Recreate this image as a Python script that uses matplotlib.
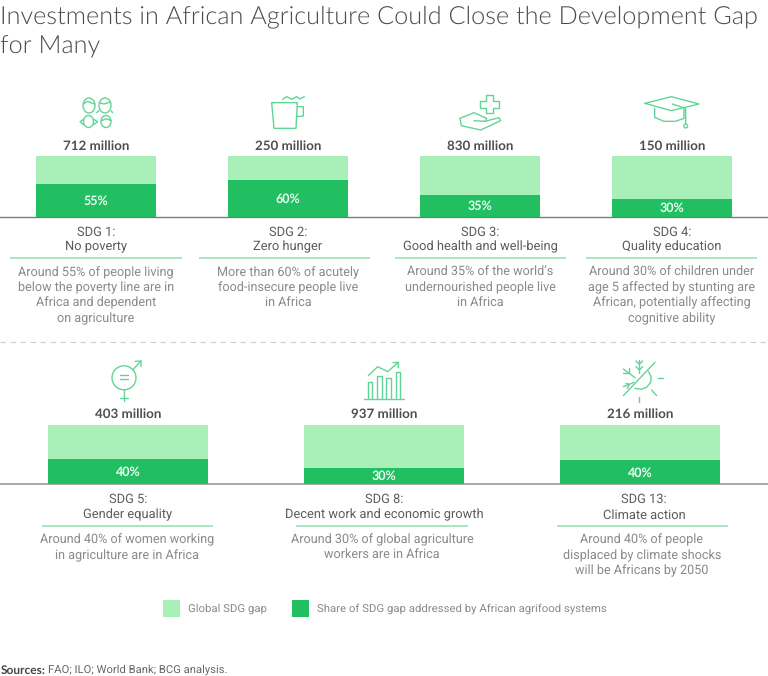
import matplotlib
matplotlib.use("Agg")
import matplotlib.pyplot as plt
from matplotlib.patches import Circle, Ellipse, Rectangle

plt.rcParams["text.hinting"] = "none"

W, H = 768, 676

# values
top_totals = ["712 million", "250 million", "830 million", "150 million"]
top_shares = [54, 60, 36, 30]
top_labels = ["55%", "60%", "35%", "30%"]
top_names = ["SDG 1:\nNo poverty", "SDG 2:\nZero hunger", "SDG 3:\nGood health and well-being", "SDG 4:\nQuality education"]
top_notes = [
    "Around 55% of people living\nbelow the poverty line are in\nAfrica and dependent\non agriculture",
    "More than 60% of acutely\nfood-insecure people live\nin Africa",
    "Around 35% of the world\u2019s\nundernourished people live\nin Africa",
    "Around 30% of children under\nage 5 affected by stunting are\nAfrican, potentially affecting\ncognitive ability",
]
bottom_totals = ["403 million", "937 million", "216 million"]
bottom_shares = [42, 27, 40]
bottom_labels = ["40%", "30%", "40%"]
bottom_names = ["SDG 5:\nGender equality", "SDG 8:\nDecent work and economic growth", "SDG 13:\nClimate action"]
bottom_notes = [
    "Around 40% of women working\nin agriculture are in Africa",
    "Around 30% of global agriculture\nworkers are in Africa",
    "Around 40% of people\ndisplaced by climate shocks\nwill be Africans by 2050",
]
legend_labels = ["Global SDG gap", "Share of SDG gap addressed by African agrifood systems"]

LIGHT = "#a9f0b8"
DARK = "#21bf61"
ICON = "#62d596"
RULE = "#8fdfb0"
DARK_TEXT = "#4f4f4f"
NOTE_TEXT = "#8a8a8a"
BODY_FONT = "Roboto"
BOLD_FONT = "Lato"

fig = plt.figure(figsize=(W / 100, H / 100), dpi=100)

# pixel axes for text, rules and icons
pix = fig.add_axes([0, 0, 1, 1])
pix.set_xlim(0, W)
pix.set_ylim(H, 0)
pix.axis("off")


def bar_row(y_top, y_bottom, centers, width, shares, labels):
    ax = fig.add_axes([0, 1 - y_bottom / H, 1, (y_bottom - y_top) / H])
    ax.set_xlim(0, W)
    ax.set_ylim(0, 100)
    ax.axis("off")
    ax.bar(centers, [100] * len(centers), width=width, color=LIGHT)
    ax.bar(centers, shares, width=width, color=DARK)
    for c, s, lab in zip(centers, shares, labels):
        ax.text(c, s / 2 - 1, lab, ha="center", va="center", color="#eafbf0",
                fontsize=9, fontweight="bold", family=BOLD_FONT)


def panel(c_text, y, total, name, note, rule, total_y):
    pix.text(c_text[0], total_y + 1, total, ha="center", va="center", color=DARK_TEXT,
             fontsize=9.6, fontweight="bold", family=BOLD_FONT)
    for i, line in enumerate(name.split("\n")):
        pix.text(c_text[1], y + 1 + i * 15.2, line, ha="center", va="center", color="#5c5c5c",
                 fontsize=9.3, family=BODY_FONT)
    pix.plot(rule, [y + 27, y + 27], color=RULE, lw=1.1, solid_capstyle="butt")
    for i, line in enumerate(note.split("\n")):
        pix.text(c_text[2], y + 41.5 + i * 15.3, line, ha="center", va="center", color=NOTE_TEXT,
                 fontsize=9.05, family=BODY_FONT)


top_centers = [96, 288, 480, 672]
bar_row(156.3, 216.7, top_centers, 120, top_shares, top_labels)
top_rules = [(10, 182), (199, 370), (395, 566), (586, 757)]
for c, total, name, note, rule in zip(top_centers, top_totals, top_names, top_notes, top_rules):
    panel((c, c, c), 231, total, name, note, rule, 145)

bottom_centers = [128, 384, 640]
bar_row(424.5, 484, bottom_centers, 160, bottom_shares, bottom_labels)
bottom_rules = [(41.5, 213), (296, 468), (557, 728)]
bottom_text = [(128, 128, 127), (384, 384, 382), (640, 644, 642)]
for c, total, name, note, rule in zip(bottom_text, bottom_totals, bottom_names, bottom_notes, bottom_rules):
    panel(c, 498.7, total, name, note, rule, 413)

# baselines and row separator
pix.axhline(216.8, color="#7d7d7d", lw=1)
pix.axhline(484.2, color="#9a9a9a", lw=1.2)
pix.plot([0, W], [342, 342], color="#cfcfcf", lw=0.8, dashes=(5, 4))

# title
pix.text(0, 17, "Investments in African Agriculture Could Close the Development Gap",
         ha="left", va="center", fontsize=18.2, color="#4a4a4a", family="Lato", fontweight=300)
pix.text(0, 47, "for Many", ha="left", va="center", fontsize=18.2, color="#4a4a4a",
         family="Lato", fontweight=300)

# legend
pix.add_patch(Rectangle((163, 600), 17, 17, color=LIGHT, lw=0))
pix.add_patch(Rectangle((292, 600), 17, 17, color=DARK, lw=0))
pix.text(187.5, 608.5, legend_labels[0], va="center", fontsize=8.2, color=NOTE_TEXT, family=BODY_FONT)
pix.text(317, 608.5, legend_labels[1], va="center", fontsize=8.2, color=NOTE_TEXT, family=BODY_FONT)

# source
pix.text(1, 670, "Sources:", va="center", fontsize=8.6, color="#444444", fontweight="bold", family=BOLD_FONT)
pix.text(48.5, 670, "FAO; ILO; World Bank; BCG analysis.", va="center", fontsize=8.1, color="#666666", family=BODY_FONT)


# icons, outlines given in the pixels of a 3x crop
def icon_line(x0, y0, pts, lw=1.0):
    xs = [x0 + p[0] / 3 for p in pts]
    ys = [y0 + p[1] / 3 for p in pts]
    pix.plot(xs, ys, color=ICON, lw=lw, solid_joinstyle="round", solid_capstyle="round")


def add_outline(patch):
    patch.set_edgecolor(ICON)
    patch.set_facecolor("none")
    patch.set_linewidth(1.0)
    pix.add_patch(patch)


# people
add_outline(Ellipse((89, 105.5), 12, 15))
add_outline(Ellipse((105, 105.5), 12, 15))
add_outline(Ellipse((88.5, 121.5), 10, 12))
add_outline(Ellipse((106, 121.5), 10, 12))
icon_line(0, 80, [(250, 72), (262, 64), (272, 68), (284, 72)])
icon_line(0, 80, [(298, 68), (312, 72), (332, 66)])
icon_line(0, 80, [(297, 92), (290, 98)])
icon_line(0, 80, [(333, 92), (338, 98)])
icon_line(0, 80, [(251, 118), (240, 125), (250, 134)])
icon_line(0, 80, [(281, 118), (293, 125), (281, 134)])
icon_line(0, 80, [(304, 122), (320, 116), (333, 122)])

# cup
icon_line(0, 80, [(815, 68), (892, 68), (888, 145), (822, 145), (815, 68)])
icon_line(0, 80, [(892, 80), (910, 80), (910, 108), (889, 110)])
icon_line(0, 80, [(848, 58), (860, 50), (875, 58), (890, 50), (900, 57), (913, 50)])

# hand and cross
icon_line(384, 80, [(305, 46), (328, 46), (328, 62), (345, 62), (345, 84), (328, 84), (328, 100),
                    (305, 100), (305, 84), (289, 84), (289, 62), (305, 62), (305, 46)])
icon_line(384, 80, [(228, 115), (270, 98), (308, 115), (303, 124), (270, 122)])
icon_line(384, 80, [(303, 124), (345, 113), (350, 122), (290, 150), (232, 137), (228, 115)])

# cap
icon_line(384, 80, [(783, 70), (862, 50), (945, 72), (862, 92), (783, 70)])
icon_line(384, 80, [(812, 85), (812, 112), (840, 124), (875, 124), (900, 115), (900, 86)])
icon_line(384, 80, [(865, 72), (905, 85), (905, 132)])
add_outline(Circle((384 + 905 / 3, 80 + 138 / 3), 1.9))

# gender
add_outline(Circle((124, 377.8), 12))
icon_line(0, 340, [(361, 106), (384, 106)])
icon_line(0, 340, [(361, 118), (384, 118)])
icon_line(0, 340, [(398, 90), (423, 63)])
icon_line(0, 340, [(405, 64), (423, 63), (423, 80)])
icon_line(0, 340, [(372, 150), (372, 183)])
icon_line(0, 340, [(361, 174), (383, 174)])

# growth chart
for left, top, right in [(38, 82, 52), (65, 62, 80), (93, 68, 108), (122, 52, 136)]:
    icon_line(355, 355, [(left, 128), (left, top), (right, top), (right, 128)])
icon_line(355, 355, [(26, 131), (148, 131)])
icon_line(355, 355, [(40, 62), (68, 35), (98, 50), (130, 22)])
icon_line(355, 355, [(114, 23), (130, 22), (130, 38)])

# climate
icon_line(610, 355, [(40, 122), (135, 22)])
icon_line(610, 355, [(116, 50), (123, 65), (122, 82), (110, 97), (92, 103), (75, 100)])
icon_line(610, 355, [(143, 70), (160, 70)])
icon_line(610, 355, [(125, 105), (140, 122)])
icon_line(610, 355, [(88, 125), (88, 142)])
icon_line(610, 355, [(88, 15), (88, 55)])
icon_line(610, 355, [(78, 18), (88, 28), (98, 18)])
icon_line(610, 355, [(78, 35), (88, 45), (98, 35)])
icon_line(610, 355, [(40, 42), (75, 68)])
icon_line(610, 355, [(40, 55), (57, 55), (57, 40)])
icon_line(610, 355, [(40, 95), (72, 82)])
icon_line(610, 355, [(48, 85), (58, 88), (52, 100)])

fig.savefig("out.png", dpi=100)
